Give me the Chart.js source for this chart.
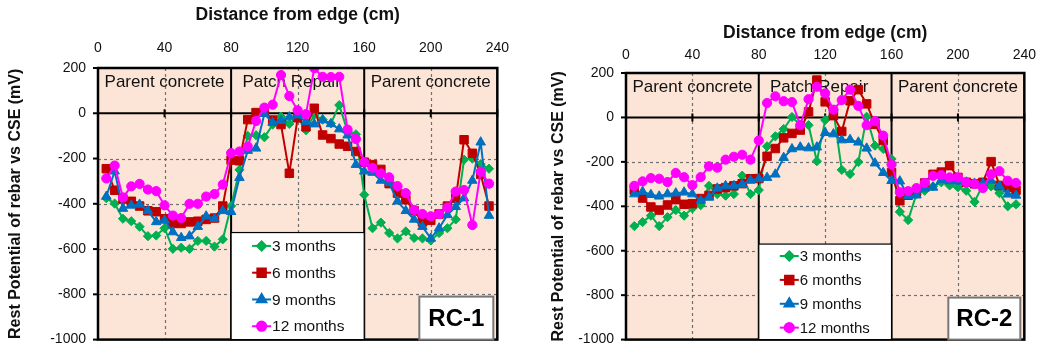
<!DOCTYPE html>
<html>
<head>
<meta charset="utf-8">
<script src="https://cdn.jsdelivr.net/npm/chart.js@4.4.1/dist/chart.umd.min.js"></script>
<style>
  body { margin: 0; background: #fff; width: 1045px; height: 360px; position: relative; overflow: hidden; }
  .panel { position: absolute; top: 0; height: 360px; }
  #p1 { left: 0; width: 520px; }
  #p2 { left: 520px; width: 525px; }
</style>
</head>
<body>
<div class="panel" id="p1"><canvas id="rc1" width="520" height="360"></canvas></div>
<div class="panel" id="p2"><canvas id="rc2" width="525" height="360"></canvas></div>
<script>
// distance from edge (cm)
const distance = [5, 10, 15, 20, 25, 30, 35, 40, 45, 50, 55, 60, 65, 70, 75, 80,
  85, 90, 95, 100, 105, 110, 115, 120, 125, 130, 135, 140, 145, 150, 155, 160,
  165, 170, 175, 180, 185, 190, 195, 200, 205, 210, 215, 220, 225, 230, 235];

const xTicks = [0, 40, 80, 120, 160, 200, 240];
const yTicks = [200, 0, -200, -400, -600, -800, -1000];
const regionEdges = [0, 80, 160, 240];
const regionNames = ['Parent concrete', 'Patch Repair', 'Parent concrete'];
const seriesNames = ['3 months', '6 months', '9 months', '12 months'];

// RC-1 rest potential (mV)
const rc1Month3 = [-375, -399, -466, -477, -501, -543, -540, -508, -599, -594, -599, -564, -564, -589, -557, -410,
  -250, -100, -97, -106, -50, -15, -47, -18, -75, -7, -28, -45, 36, -80, -93, -360,
  -508, -483, -529, -553, -522, -551, -553, -562, -529, -508, -469, -205, -200, -225, -245];
const rc1Month6 = [-245, -340, -379, -389, -410, -431, -435, -466, -487, -487, -480, -477, -469, -463, -410, -207,
  -210, -28, 3, 5, -30, -50, -265, -20, -60, 22, -96, -112, -136, -146, -169, -216,
  -227, -248, -311, -353, -382, -431, -480, -473, -445, -410, -375, -117, -177, -270, -410];
const rc1Month9 = [-368, -256, -421, -407, -403, -431, -480, -473, -525, -550, -543, -501, -455, -466, -431, -435,
  -285, -165, -155, -2, -42, -33, -17, -9, -38, -48, -30, -47, -70, -97, -227, -256,
  -262, -297, -308, -389, -431, -469, -501, -553, -508, -449, -413, -375, -297, -128, -452];
const rc1Month12 = [-288, -231, -372, -323, -312, -337, -344, -407, -452, -463, -400, -400, -368, -357, -315, -176,
  -169, -147, -34, 25, 38, 169, 76, 13, -4, 199, 161, 160, 161, -72, -114, -216,
  -241, -266, -283, -322, -353, -427, -445, -455, -445, -417, -346, -339, -494, -258, -311];

// RC-2 rest potential (mV)
const rc2Month3 = [-489, -471, -442, -489, -449, -417, -442, -409, -395, -308, -345, -352, -345, -262, -345, -327,
  -130, -85, -52, 2, -33, -35, -197, -12, 30, -236, -255, -200, 3, -127, -142, -187,
  -425, -462, -345, -330, -310, -292, -306, -314, -330, -380, -304, -310, -341, -400, -391];
const rc2Month6 = [-327, -363, -403, -417, -394, -370, -391, -388, -365, -351, -322, -316, -308, -298, -276, -275,
  -175, -140, -92, -72, -57, 25, 168, 70, 8, -63, 75, 125, 61, -31, -104, -248,
  -375, -350, -335, -295, -256, -246, -217, -270, -292, -299, -292, -199, -306, -314, -328];
const rc2Month9 = [-345, -334, -348, -355, -345, -341, -337, -345, -374, -360, -319, -308, -308, -302, -283, -277,
  -271, -256, -181, -142, -134, -138, -134, -69, -75, -102, -100, -112, -139, -206, -249, -285,
  -287, -353, -350, -319, -315, -281, -286, -288, -292, -297, -297, -284, -310, -346, -351];
const rc2Month12 = [-308, -288, -273, -276, -291, -250, -269, -305, -269, -220, -226, -190, -177, -168, -190, -104,
  65, 95, 73, 69, -35, 82, 138, 108, 35, 78, 125, 52, -35, -17, -82, -212,
  -337, -332, -318, -295, -263, -260, -270, -270, -292, -299, -318, -256, -242, -285, -295];

const FONT = '"Liberation Sans", Arial, sans-serif';
const colors = ['#00B050', '#C00000', '#0070C0', '#FF00FF'];
const markers = ['rectRot', 'rect', 'triangle', 'circle'];
const markerSize = [4.6, 6, 5.5, 4.6];

function line(ctx, x1, y1, x2, y2) {
  ctx.beginPath(); ctx.moveTo(x1, y1); ctx.lineTo(x2, y2); ctx.stroke();
}

const panelDecor = {
  id: 'panelDecor',
  beforeDatasetsDraw(chart, args, opts) {
    const { ctx, chartArea: a, scales: { x, y } } = chart;
    ctx.save();
    ctx.fillStyle = '#FCE5D6';
    ctx.fillRect(a.left, a.top, a.width, a.height);

    // dashed grid
    ctx.strokeStyle = '#707070';
    ctx.lineWidth = 1.2;
    ctx.setLineDash([3, 3]);
    xTicks.forEach(v => {
      if (regionEdges.includes(v)) return;
      const px = Math.round(x.getPixelForValue(v)) + 0.5;
      line(ctx, px, a.top, px, a.bottom);
    });
    yTicks.forEach(v => {
      if (v === 0 || v === 200 || v === -1000) return;
      const py = Math.round(y.getPixelForValue(v)) + 0.5;
      line(ctx, a.left, py, a.right, py);
    });
    ctx.setLineDash([]);

    // region names (the middle one sits a little left of centre)
    ctx.fillStyle = '#111';
    ctx.font = '17px ' + FONT;
    ctx.textAlign = 'center';
    ctx.textBaseline = 'middle';
    regionNames.forEach((n, i) => {
      const cx = (x.getPixelForValue(regionEdges[i]) + x.getPixelForValue(regionEdges[i + 1])) / 2;
      ctx.fillText(n, cx - (i === 1 ? 6 : 0), y.getPixelForValue(137));
    });

    // region boundaries and zero line
    ctx.strokeStyle = '#000';
    ctx.lineWidth = 2;
    [80, 160].forEach(v => {
      const px = x.getPixelForValue(v);
      line(ctx, px, a.top, px, a.bottom);
    });
    const y0 = y.getPixelForValue(0);
    line(ctx, a.left, y0, a.right, y0);
    xTicks.forEach(v => {
      const px = x.getPixelForValue(v);
      line(ctx, px, y0 - 4, px, y0 + 4);
    });
    // y tick marks
    yTicks.forEach(v => {
      const py = y.getPixelForValue(v);
      line(ctx, a.left - 5, py, a.left, py);
    });
    ctx.restore();
  },
  afterDatasetsDraw(chart, args, opts) {
    const { ctx, chartArea: a, scales: { x, y } } = chart;
    ctx.save();
    // plot border
    ctx.strokeStyle = '#000';
    ctx.lineWidth = 2.5;
    ctx.strokeRect(a.left, a.top, a.width, a.height);

    // legend
    const lx1 = x.getPixelForValue(80), lx2 = x.getPixelForValue(160);
    const ly1 = y.getPixelForValue(opts.legendTop), ly2 = a.bottom;
    ctx.fillStyle = '#fff';
    ctx.fillRect(lx1, ly1, lx2 - lx1, ly2 - ly1);
    ctx.strokeStyle = '#000';
    ctx.lineWidth = 1.2;
    ctx.strokeRect(lx1, ly1, lx2 - lx1, ly2 - ly1);
    const row = (ly2 - ly1) / seriesNames.length;
    ctx.font = opts.legendFont + 'px ' + FONT;
    ctx.textAlign = 'left';
    ctx.textBaseline = 'middle';
    chart.data.datasets.forEach((ds, i) => {
      const cy = ly1 + row * (i + 0.5);
      ctx.strokeStyle = ds.borderColor;
      ctx.fillStyle = ds.backgroundColor;
      ctx.lineWidth = 2;
      line(ctx, lx1 + 21, cy, lx1 + 40, cy);
      Chart.helpers.drawPoint(ctx, { pointStyle: ds.pointStyle, radius: ds.pointRadius, rotation: 0, borderWidth: 1 }, lx1 + 30.5, cy);
      ctx.fillStyle = '#111';
      ctx.fillText(ds.label, lx1 + 41, cy + 1);
    });

    // panel label
    const bw = opts.boxWidth, bh = opts.boxHeight;
    const bx = a.right - 4 - bw, by = a.bottom - bh;
    ctx.fillStyle = '#fff';
    ctx.fillRect(bx, by, bw, bh);
    ctx.strokeStyle = '#777';
    ctx.lineWidth = 2;
    ctx.strokeRect(bx, by, bw, bh);
    ctx.fillStyle = '#000';
    ctx.font = 'bold 24px ' + FONT;
    ctx.textAlign = 'center';
    ctx.fillText(opts.label, bx + bw / 2, by + bh / 2 + 1);
    ctx.restore();
  }
};

function buildChart(id, series, panel) {
  const datasets = series.map((vals, i) => ({
    label: seriesNames[i],
    data: distance.map((d, k) => ({ x: d, y: vals[k] })),
    borderColor: colors[i],
    backgroundColor: colors[i],
    borderWidth: 2,
    pointStyle: markers[i],
    pointRadius: markerSize[i],
    pointBorderWidth: 1,
    tension: 0,
    order: 3 - i
  }));
  return new Chart(document.getElementById(id), {
    type: 'line',
    data: { datasets },
    plugins: [panelDecor],
    options: {
      responsive: false,
      animation: false,
      layout: { padding: { left: 0, top: panel.padTop, right: panel.padRight, bottom: 8 } },
      plugins: {
        legend: { display: false },
        tooltip: { enabled: false },
        panelDecor: panel
      },
      scales: {
        x: {
          type: 'linear',
          position: 'top',
          min: 0, max: 240,
          afterBuildTicks: s => { s.ticks = xTicks.map(v => ({ value: v })); },
          afterFit: s => { s.height = panel.xAxisHeight; },
          grid: { display: false, drawTicks: false },
          border: { display: false },
          ticks: { padding: panel.xTickPad, color: '#111', font: { family: FONT, size: 14 }, maxRotation: 0,
            callback: v => String(v) },
          title: { display: true, text: 'Distance from edge (cm)', color: '#111',
            font: { family: FONT, size: 17.5, weight: 'bold' }, padding: { top: 5, bottom: 0 } }
        },
        y: {
          min: -1000, max: 200,
          afterBuildTicks: s => { s.ticks = yTicks.map(v => ({ value: v })); },
          afterFit: s => { s.width = panel.yAxisWidth; },
          grid: { display: false, drawTicks: false },
          border: { display: false },
          ticks: { padding: 12, color: '#111', font: { family: FONT, size: 14 }, callback: v => String(v) },
          title: { display: true, text: 'Rest Potential of rebar vs CSE (mV)', color: '#111',
            font: { family: FONT, size: 16, weight: 'bold' }, padding: { top: panel.yTitlePad, bottom: 0 } }
        }
      }
    }
  });
}

buildChart('rc1', [rc1Month3, rc1Month6, rc1Month9, rc1Month12], {
  label: 'RC-1', legendTop: -527, legendFont: 15.5, boxWidth: 74, boxHeight: 43,
  padTop: 0, padRight: 13, xAxisHeight: 68, yAxisWidth: 98, xTickPad: 11, yTitlePad: 6
});
buildChart('rc2', [rc2Month3, rc2Month6, rc2Month9, rc2Month12], {
  label: 'RC-2', legendTop: -570, legendFont: 15, boxWidth: 72, boxHeight: 42,
  padTop: 18, padRight: 19, xAxisHeight: 55, yAxisWidth: 106, xTickPad: 9, yTitlePad: 29
});
</script>
</body>
</html>
